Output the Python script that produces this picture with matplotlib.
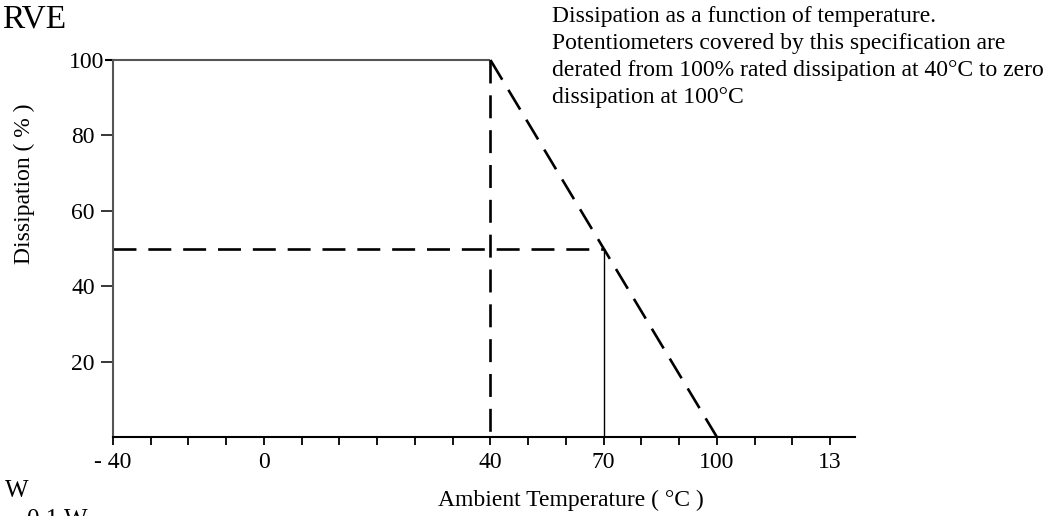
import numpy as np
import matplotlib
matplotlib.use("Agg")
import matplotlib.pyplot as plt
import matplotlib.transforms as mtrans
from matplotlib.ticker import FixedLocator, FixedFormatter, NullFormatter

# ---- data ----
tick_temps = [-40, 0, 40, 70, 100, 130]
tick_labels = ["- 40", "0", "40", "70", "100", "13"]
tick_slots = [0, 4, 10, 13, 16, 19]      # hand-drawn axis: slot of each labelled tick
y_ticks = [20, 40, 60, 80, 100]

flat_temp = [-40, 40]
flat_pct = [100, 100]
derate_temp = [40, 100]
derate_pct = [100, 0]
knee_temp = [40, 40]
knee_pct = [100, 0]
half_temp = [-40, 70]
half_pct = [50, 50]
half_drop_temp = [70, 70]
half_drop_pct = [50, 0]

note_lines = [
    "Dissipation as a function of temperature.",
    "Potentiometers covered by this specification are",
    "derated from 100% rated dissipation at 40\u00b0C to zero",
    "dissipation at 100\u00b0C",
]

# ---- style ----
plt.rcParams['font.family'] = ['Liberation Serif', 'DejaVu Serif']
W, H = 1061, 516
fig = plt.figure(figsize=(W / 100, H / 100), dpi=100)
ax = fig.add_axes([113 / W, 1 - 437 / H, (855 - 113) / W, (437 - 60) / H])

t_ext = [-400] + tick_temps + [500]
s_ext = [-36] + tick_slots + [56]
fwd = lambda x: np.interp(x, t_ext, s_ext)
inv = lambda s: np.interp(s, s_ext, t_ext)
ax.set_xscale('function', functions=(fwd, inv))
ax.set_xlim(-40, float(inv(19.66)))
ax.set_ylim(0, 100)

gray = '#555555'
for s in ['top', 'right']:
    ax.spines[s].set_visible(False)
ax.spines['left'].set_color(gray)
ax.spines['left'].set_linewidth(1.5)
ax.spines['bottom'].set_color('black')
ax.spines['bottom'].set_linewidth(1.5)

ax.xaxis.set_major_locator(FixedLocator(tick_temps))
ax.xaxis.set_major_formatter(FixedFormatter(tick_labels))
minor_slots = [s for s in range(20) if s not in tick_slots]
ax.xaxis.set_minor_locator(FixedLocator(list(inv(np.array(minor_slots, float)))))
ax.xaxis.set_minor_formatter(NullFormatter())
ax.tick_params(axis='x', which='both', direction='out', length=6, width=1.3,
               color='black', labelsize=17, pad=5)
ax.set_yticks(y_ticks)
ax.tick_params(axis='y', direction='out', length=9, width=1.1, color='black',
               labelsize=17, pad=4)
# the 100 % tick is the start of the rated-dissipation line, its label sits closer
top_tick = ax.yaxis.get_major_ticks()[-1]
top_tick.tick1line.set_color(gray)
top_tick.tick1line.set_markeredgewidth(1.5)
top_tick.tick1line.set_markersize(6)
top_tick.label1.set_transform(top_tick.label1.get_transform() +
                              mtrans.ScaledTranslation(9 / 100, 0, fig.dpi_scale_trans))

ax.plot(flat_temp, flat_pct, color=gray, lw=1.5, clip_on=False, solid_capstyle='butt')
dash = dict(color='black', lw=1.9, dashes=(8.7, 4.5), clip_on=False)
ax.plot(knee_temp, knee_pct, **dash)
ax.plot(derate_temp, derate_pct, **dash)
ax.plot(half_temp, half_pct, **dash)
ax.plot(half_drop_temp, half_drop_pct, color='black', lw=1.0, clip_on=False)

fig.text(2 / W, 1 - 28 / H, "RVE", fontsize=24, va='baseline', ha='left')
fig.text(552 / W, 1 - 6 / H, "\n".join(note_lines), fontsize=17, va='top',
         ha='left', linespacing=1.38)
fig.text(24 / W, 1 - 184 / H, "Dissipation ( % )", rotation=90, fontsize=17,
         va='center', ha='center')
fig.text(571 / W, 1 - 500 / H, "Ambient Temperature ( \u00b0C )", fontsize=17,
         va='center', ha='center')
fig.text(5 / W, 1 - 497 / H, "W", fontsize=18, va='baseline', ha='left')
fig.text(27 / W, 1 - 526 / H, "0.1 W", fontsize=18, va='baseline', ha='left')

fig.savefig("out.png", dpi=100)
